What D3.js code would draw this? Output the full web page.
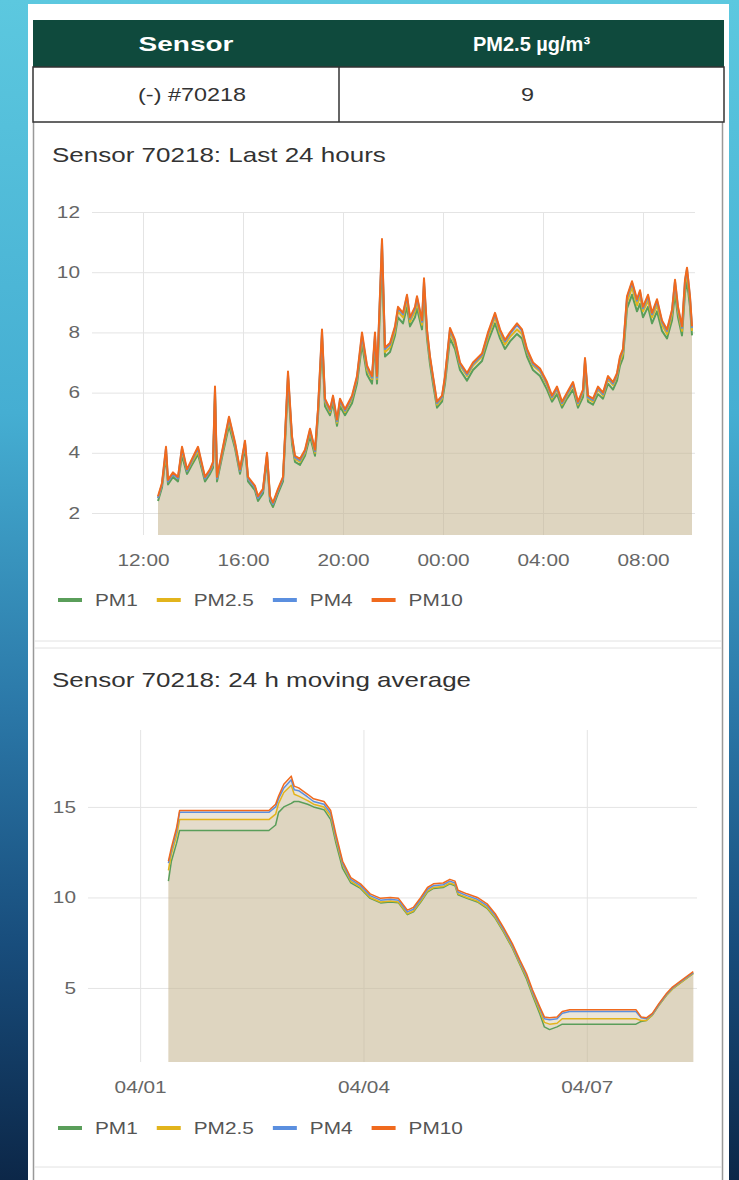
<!DOCTYPE html>
<html>
<head>
<meta charset="utf-8">
<script src="https://cdn.jsdelivr.net/npm/d3@7"></script>
<style>
  body { margin: 0; overflow: hidden; }
  svg { display: block; font-family: "Liberation Sans", Arial, sans-serif; }
</style>
</head>
<body>
<svg id="chart" width="739" height="1180"></svg>
<script>
// ---- Data ----
const seriesNames = ['PM1', 'PM2.5', 'PM4', 'PM10'];
const seriesColors = ['#5a9e5a', '#e2b41c', '#5b8fdf', '#f06a1e'];

const tableHeader = ['Sensor', 'PM2.5 µg/m³'];
const tableRow = ['(-) #70218', '9'];

// Last 24 hours: hours since 2024-04-07 00:00
const dayStart = '2024-04-07T00:00Z';
const dayTicks = ['2024-04-07T12:00Z', '2024-04-07T16:00Z', '2024-04-07T20:00Z',
  '2024-04-08T00:00Z', '2024-04-08T04:00Z', '2024-04-08T08:00Z'];
const dayYTicks = [2, 4, 6, 8, 10, 12];
const dayHours = [12.6, 12.76, 12.92, 13.0, 13.2, 13.4, 13.56, 13.76, 13.96, 14.2,
  14.48, 14.68, 14.8, 14.88, 14.96, 15.2, 15.44, 15.68, 15.88, 16.08,
  16.2, 16.48, 16.6, 16.8, 16.96, 17.08, 17.2, 17.4, 17.6, 17.68,
  17.8, 17.96, 18.08, 18.28, 18.48, 18.68, 18.88, 19.0, 19.16, 19.28,
  19.48, 19.6, 19.76, 19.88, 20.08, 20.36, 20.56, 20.76, 20.96, 21.16,
  21.28, 21.36, 21.56, 21.68, 21.88, 22.08, 22.2, 22.4, 22.56, 22.68,
  22.88, 22.96, 23.16, 23.24, 23.36, 23.48, 23.6, 23.76, 23.96, 24.08,
  24.28, 24.48, 24.68, 24.96, 25.2, 25.56, 25.8, 26.08, 26.28, 26.48,
  26.68, 26.96, 27.16, 27.36, 27.6, 27.88, 28.16, 28.36, 28.56, 28.76,
  28.96, 29.2, 29.4, 29.6, 29.68, 29.8, 30.0, 30.2, 30.4, 30.6,
  30.8, 30.96, 31.08, 31.2, 31.36, 31.56, 31.76, 31.88, 32.0, 32.2,
  32.36, 32.56, 32.76, 32.96, 33.16, 33.28, 33.4, 33.56, 33.68, 33.76,
  33.88, 33.96];
const pm1Day = [2.4, 2.85, 3.9, 2.95, 3.2, 3.05, 3.9, 3.3, 3.6, 3.95,
  3.05, 3.3, 3.5, 5.8, 3.05, 4.0, 4.9, 4.15, 3.3, 4.15,
  3.05, 2.75, 2.4, 2.65, 3.75, 2.4, 2.2, 2.65, 3.05, 4.3,
  6.3, 4.3, 3.7, 3.6, 3.9, 4.55, 3.9, 5.2, 7.6, 5.55,
  5.25, 5.65, 4.9, 5.55, 5.25, 5.65, 6.3, 7.6, 6.6, 6.3,
  7.6, 6.3, 10.4, 7.2, 7.35, 7.9, 8.5, 8.3, 8.85, 8.2,
  8.5, 8.8, 8.1, 9.3, 7.8, 6.95, 6.3, 5.5, 5.7, 6.3,
  7.8, 7.45, 6.75, 6.4, 6.75, 7.05, 7.7, 8.3, 7.8, 7.45,
  7.7, 7.95, 7.8, 7.2, 6.75, 6.55, 6.1, 5.7, 5.95, 5.5,
  5.8, 6.1, 5.5, 5.85, 6.8, 5.7, 5.6, 5.95, 5.8, 6.3,
  6.1, 6.4, 6.9, 7.15, 8.8, 9.25, 8.7, 8.95, 8.5, 8.85,
  8.3, 8.7, 8.05, 7.8, 8.4, 9.3, 8.5, 7.9, 9.3, 9.7,
  8.85, 7.9];
const pm25Day = [2.5, 2.95, 4.0, 3.05, 3.3, 3.15, 4.05, 3.4, 3.7, 4.05,
  3.15, 3.4, 3.6, 6.0, 3.15, 4.1, 5.05, 4.25, 3.4, 4.3,
  3.15, 2.85, 2.5, 2.75, 3.9, 2.5, 2.3, 2.75, 3.15, 4.45,
  6.5, 4.45, 3.8, 3.7, 4.0, 4.7, 4.0, 5.35, 7.85, 5.7,
  5.35, 5.8, 5.0, 5.7, 5.35, 5.8, 6.45, 7.8, 6.75, 6.45,
  7.8, 6.45, 10.8, 7.35, 7.5, 8.05, 8.7, 8.5, 9.05, 8.35,
  8.7, 9.0, 8.25, 9.55, 7.95, 7.1, 6.45, 5.6, 5.8, 6.45,
  8.0, 7.6, 6.9, 6.55, 6.9, 7.2, 7.85, 8.5, 7.95, 7.6,
  7.85, 8.1, 7.95, 7.35, 6.9, 6.7, 6.25, 5.8, 6.1, 5.6,
  5.9, 6.25, 5.6, 6.0, 7.0, 5.8, 5.7, 6.1, 5.9, 6.45,
  6.25, 6.55, 7.05, 7.3, 9.0, 9.5, 8.9, 9.2, 8.7, 9.05,
  8.5, 8.9, 8.25, 7.95, 8.6, 9.55, 8.7, 8.05, 9.55, 9.95,
  9.05, 8.05];
const pm4Day = [2.5, 2.95, 4.15, 3.05, 3.3, 3.15, 4.15, 3.4, 3.75, 4.15,
  3.15, 3.4, 3.65, 6.1, 3.15, 4.15, 5.15, 4.3, 3.4, 4.35,
  3.15, 2.85, 2.5, 2.75, 3.95, 2.5, 2.3, 2.75, 3.15, 4.5,
  6.6, 4.5, 3.85, 3.75, 4.05, 4.75, 4.05, 5.4, 8.0, 5.75,
  5.4, 5.85, 5.05, 5.75, 5.4, 5.85, 6.5, 7.9, 6.85, 6.5,
  7.9, 6.5, 11.0, 7.45, 7.6, 8.15, 8.8, 8.6, 9.2, 8.45,
  8.8, 9.15, 8.35, 9.7, 8.05, 7.15, 6.5, 5.65, 5.85, 6.5,
  8.1, 7.7, 6.95, 6.6, 6.95, 7.25, 7.95, 8.6, 8.05, 7.7,
  7.95, 8.25, 8.05, 7.4, 6.95, 6.75, 6.3, 5.85, 6.15, 5.65,
  5.95, 6.3, 5.65, 6.05, 7.1, 5.85, 5.75, 6.15, 5.95, 6.5,
  6.3, 6.6, 7.15, 7.4, 9.15, 9.65, 9.05, 9.35, 8.8, 9.2,
  8.6, 9.05, 8.35, 8.05, 8.7, 9.7, 8.8, 8.15, 9.7, 10.1,
  9.15, 8.15];
const pm10Day = [2.56, 3.0, 4.2, 3.1, 3.35, 3.2, 4.2, 3.45, 3.8, 4.2,
  3.2, 3.45, 3.7, 6.2, 3.2, 4.2, 5.2, 4.35, 3.45, 4.4,
  3.2, 2.9, 2.56, 2.8, 4.0, 2.56, 2.35, 2.8, 3.2, 4.55,
  6.7, 4.55, 3.9, 3.8, 4.1, 4.8, 4.1, 5.45, 8.1, 5.8,
  5.45, 5.9, 5.1, 5.8, 5.45, 5.9, 6.55, 8.0, 6.9, 6.55,
  8.0, 6.55, 11.1, 7.5, 7.65, 8.2, 8.85, 8.65, 9.25, 8.5,
  8.85, 9.2, 8.4, 9.8, 8.1, 7.2, 6.55, 5.7, 5.9, 6.55,
  8.15, 7.75, 7.0, 6.65, 7.0, 7.3, 8.0, 8.65, 8.1, 7.75,
  8.0, 8.3, 8.1, 7.45, 7.0, 6.8, 6.35, 5.9, 6.2, 5.7,
  6.0, 6.35, 5.7, 6.1, 7.15, 5.9, 5.8, 6.2, 6.0, 6.55,
  6.35, 6.65, 7.2, 7.45, 9.2, 9.7, 9.1, 9.4, 8.85, 9.25,
  8.65, 9.1, 8.4, 8.1, 8.75, 9.75, 8.85, 8.2, 9.75, 10.15,
  9.2, 8.2];

// 24 h moving average: days since 2024-04-01 00:00
const weekStart = '2024-04-01T00:00Z';
const weekTicks = ['2024-04-01T00:00Z', '2024-04-04T00:00Z', '2024-04-07T00:00Z'];
const weekYTicks = [5, 10, 15];
const weekDays = [0.38, 0.42, 0.49, 0.53, 0.59, 1.73, 1.82, 1.86, 1.93, 2.03,
  2.07, 2.13, 2.25, 2.33, 2.47, 2.56, 2.63, 2.72, 2.83, 2.96,
  3.09, 3.23, 3.36, 3.47, 3.59, 3.67, 3.77, 3.86, 3.94, 4.07,
  4.16, 4.23, 4.27, 4.39, 4.53, 4.66, 4.77, 4.88, 5.0, 5.1,
  5.19, 5.27, 5.37, 5.43, 5.5, 5.6, 5.67, 5.77, 6.66, 6.73,
  6.8, 6.88, 6.97, 7.07, 7.15, 7.28, 7.43];
const pm1Week = [10.9, 12.0, 13.0, 13.7, 13.7, 13.7, 14.0, 14.7, 15.0, 15.2,
  15.3, 15.3, 15.15, 15.0, 14.85, 14.3, 13.0, 11.6, 10.8, 10.5,
  9.95, 9.7, 9.75, 9.7, 9.05, 9.2, 9.75, 10.3, 10.5, 10.55,
  10.75, 10.65, 10.15, 9.95, 9.75, 9.4, 8.85, 8.1, 7.2, 6.3,
  5.5, 4.6, 3.55, 2.85, 2.7, 2.85, 3.0, 3.0, 3.0, 3.15,
  3.2, 3.5, 4.05, 4.6, 4.95, 5.35, 5.8];
const pm25Week = [11.5, 12.4, 13.4, 14.3, 14.3, 14.3, 14.6, 15.2, 15.8, 16.2,
  15.7, 15.6, 15.35, 15.15, 15.0, 14.5, 13.2, 11.8, 10.9, 10.55,
  10.0, 9.75, 9.8, 9.75, 9.1, 9.25, 9.8, 10.35, 10.55, 10.6,
  10.8, 10.7, 10.2, 10.0, 9.8, 9.45, 8.9, 8.15, 7.25, 6.35,
  5.6, 4.7, 3.7, 3.1, 3.0, 3.05, 3.3, 3.3, 3.3, 3.2,
  3.2, 3.5, 4.05, 4.6, 4.95, 5.35, 5.8];
const pm4Week = [11.9, 12.6, 13.7, 14.7, 14.7, 14.7, 15.0, 15.45, 16.05, 16.5,
  15.95, 15.9, 15.55, 15.3, 15.15, 14.65, 13.35, 11.9, 11.0, 10.65,
  10.1, 9.85, 9.9, 9.85, 9.2, 9.35, 9.9, 10.45, 10.65, 10.7,
  10.9, 10.8, 10.3, 10.1, 9.9, 9.55, 9.0, 8.25, 7.35, 6.45,
  5.7, 4.8, 3.85, 3.3, 3.25, 3.3, 3.6, 3.7, 3.7, 3.35,
  3.3, 3.55, 4.1, 4.65, 5.0, 5.4, 5.85];
const pm10Week = [12.0, 12.75, 13.85, 14.8, 14.8, 14.8, 15.15, 15.6, 16.25, 16.7,
  16.15, 16.05, 15.7, 15.45, 15.3, 14.8, 13.5, 12.0, 11.1, 10.75,
  10.2, 9.95, 10.0, 9.95, 9.3, 9.45, 10.0, 10.55, 10.75, 10.8,
  11.0, 10.9, 10.4, 10.2, 10.0, 9.65, 9.1, 8.35, 7.45, 6.55,
  5.8, 4.9, 3.95, 3.4, 3.35, 3.4, 3.7, 3.8, 3.8, 3.4,
  3.35, 3.6, 4.15, 4.7, 5.05, 5.45, 5.9];

// ---- Drawing ----
const svg = d3.select('#chart');
const SX = 1.3; // the screenshot is stretched horizontally

function label(g, x, y, s, size, color, anchor, weight, sx) {
  return g.append('text')
    .attr('transform', `translate(${x},${y}) scale(${sx || SX},1)`)
    .attr('text-anchor', anchor || 'start')
    .attr('font-size', size)
    .attr('font-weight', weight || 'normal')
    .attr('fill', color)
    .text(s);
}

// background + page
const defs = svg.append('defs');
const grad = defs.append('linearGradient').attr('id', 'bg').attr('x1', 0).attr('y1', 0).attr('x2', 0).attr('y2', 1);
[[0, '#5cc8df'], [0.35, '#45aed2'], [0.6, '#2b78a8'], [0.8, '#184d7c'], [1, '#0c2748']]
  .forEach(s => grad.append('stop').attr('offset', s[0]).attr('stop-color', s[1]));
svg.append('rect').attr('width', 739).attr('height', 1180).attr('fill', 'url(#bg)');
svg.append('rect').attr('x', 28).attr('y', 4).attr('width', 701).attr('height', 1180).attr('fill', '#fff');

// card borders
const cards = svg.append('g').attr('fill', 'none');
cards.append('line').attr('x1', 33.5).attr('x2', 33.5).attr('y1', 122).attr('y2', 1180).attr('stroke', '#999').attr('stroke-width', 1.5);
cards.append('line').attr('x1', 722.5).attr('x2', 722.5).attr('y1', 122).attr('y2', 1180).attr('stroke', '#999').attr('stroke-width', 1.5);
[641, 648, 1167].forEach(yy => cards.append('line').attr('x1', 34).attr('x2', 722).attr('y1', yy).attr('y2', yy).attr('stroke', '#e2e2e2'));

// table
const tbl = svg.append('g');
const colX = [33, 339, 724];
tbl.append('rect').attr('x', colX[0]).attr('y', 20).attr('width', colX[2] - colX[0]).attr('height', 47).attr('fill', '#0f4a3d');
tbl.append('rect').attr('x', colX[0]).attr('y', 67).attr('width', colX[2] - colX[0]).attr('height', 55)
  .attr('fill', '#fff').attr('stroke', '#333').attr('stroke-width', 1.5);
tbl.append('line').attr('x1', colX[1]).attr('x2', colX[1]).attr('y1', 67).attr('y2', 122).attr('stroke', '#333').attr('stroke-width', 1.5);
label(tbl, (colX[0] + colX[1]) / 2, 51, tableHeader[0], 20, '#fff', 'middle', 'bold', 1.4);
label(tbl, (colX[1] + colX[2]) / 2, 51, tableHeader[1], 20, '#fff', 'middle', 'bold', 1.0);
label(tbl, (colX[0] + colX[1]) / 2 + 6, 101, tableRow[0], 18, '#333', 'middle');
label(tbl, (colX[1] + colX[2]) / 2 - 4, 101, tableRow[1], 18, '#333', 'middle');

function drawChart(c) {
  const g = svg.append('g');
  const x = d3.scaleUtc().domain(c.xDomain).range([c.l, c.r]);
  const y = d3.scaleLinear().domain(c.yDomain).range([c.b, c.t]);

  label(g, 52, c.titleY, c.title, 20, '#333');

  const gx = g.append('g').attr('transform', `translate(0,${c.b})`)
    .call(d3.axisBottom(x).tickValues(c.xTicks).tickSize(-(c.b - c.t)).tickPadding(c.xPad).tickFormat(c.fmt));
  const gy = g.append('g').attr('transform', `translate(${c.l},0)`)
    .call(d3.axisLeft(y).tickValues(c.yTicks).tickSize(-(c.r - c.l)).tickPadding(12));
  [gx, gy].forEach(a => {
    a.attr('font-family', null).attr('font-size', 16);
    a.select('.domain').remove();
    a.selectAll('line').attr('stroke', '#e4e4e4');
    a.selectAll('text').attr('fill', '#666');
  });
  gx.selectAll('text').attr('transform', `scale(${SX},1)`);
  gy.selectAll('text').attr('x', -12 / SX).attr('transform', `scale(${SX},1)`);

  const area = d3.area().x(d => x(d[0])).y0(c.b).y1(d => y(d[1]));
  const line = d3.line().x(d => x(d[0])).y(d => y(d[1]));
  const sets = c.values.map(v => c.times.map((t, i) => [t, v[i]]));

  sets.forEach(pts => g.append('path').datum(pts).attr('d', area).attr('fill', 'rgba(200,186,150,0.2)'));
  sets.forEach((pts, i) => g.append('path').datum(pts).attr('d', line)
    .attr('fill', 'none').attr('stroke', seriesColors[i]).attr('stroke-width', c.lw)
    .attr('stroke-linejoin', 'round'));

  // legend
  let lx = 58;
  seriesNames.forEach((name, i) => {
    g.append('line').attr('x1', lx).attr('x2', lx + 24).attr('y1', c.legendY).attr('y2', c.legendY)
      .attr('stroke', seriesColors[i]).attr('stroke-width', 4);
    const t = label(g, lx + 37, c.legendY + 6, name, 16, '#555');
    lx += 37 + t.node().getComputedTextLength() * SX + 19;
  });
}

const d0 = new Date(dayStart).getTime();
const w0 = new Date(weekStart).getTime();
const HOUR = 3600e3, DAY = 24 * HOUR;

drawChart({
  title: 'Sensor 70218: Last 24 hours', titleY: 162,
  times: dayHours.map(h => new Date(d0 + h * HOUR)),
  values: [pm1Day, pm25Day, pm4Day, pm10Day],
  xDomain: [new Date(d0 + 9.96 * HOUR), new Date(d0 + 34.08 * HOUR)],
  yDomain: [1.27, 12],
  xTicks: dayTicks.map(s => new Date(s)), yTicks: dayYTicks,
  fmt: d3.utcFormat('%H:%M'), xPad: 20,
  l: 92, r: 695, t: 212, b: 535, legendY: 600, lw: 2
});

drawChart({
  title: 'Sensor 70218: 24 h moving average', titleY: 687,
  times: weekDays.map(d => new Date(w0 + d * DAY)),
  values: [pm1Week, pm25Week, pm4Week, pm10Week],
  xDomain: [new Date(w0 - 0.70 * DAY), new Date(w0 + 7.48 * DAY)],
  yDomain: [0.91, 19.25],
  xTicks: weekTicks.map(s => new Date(s)), yTicks: weekYTicks,
  fmt: d3.utcFormat('%m/%d'), xPad: 20,
  l: 88, r: 697, t: 730, b: 1062, legendY: 1128, lw: 1.5
});
</script>
</body>
</html>
